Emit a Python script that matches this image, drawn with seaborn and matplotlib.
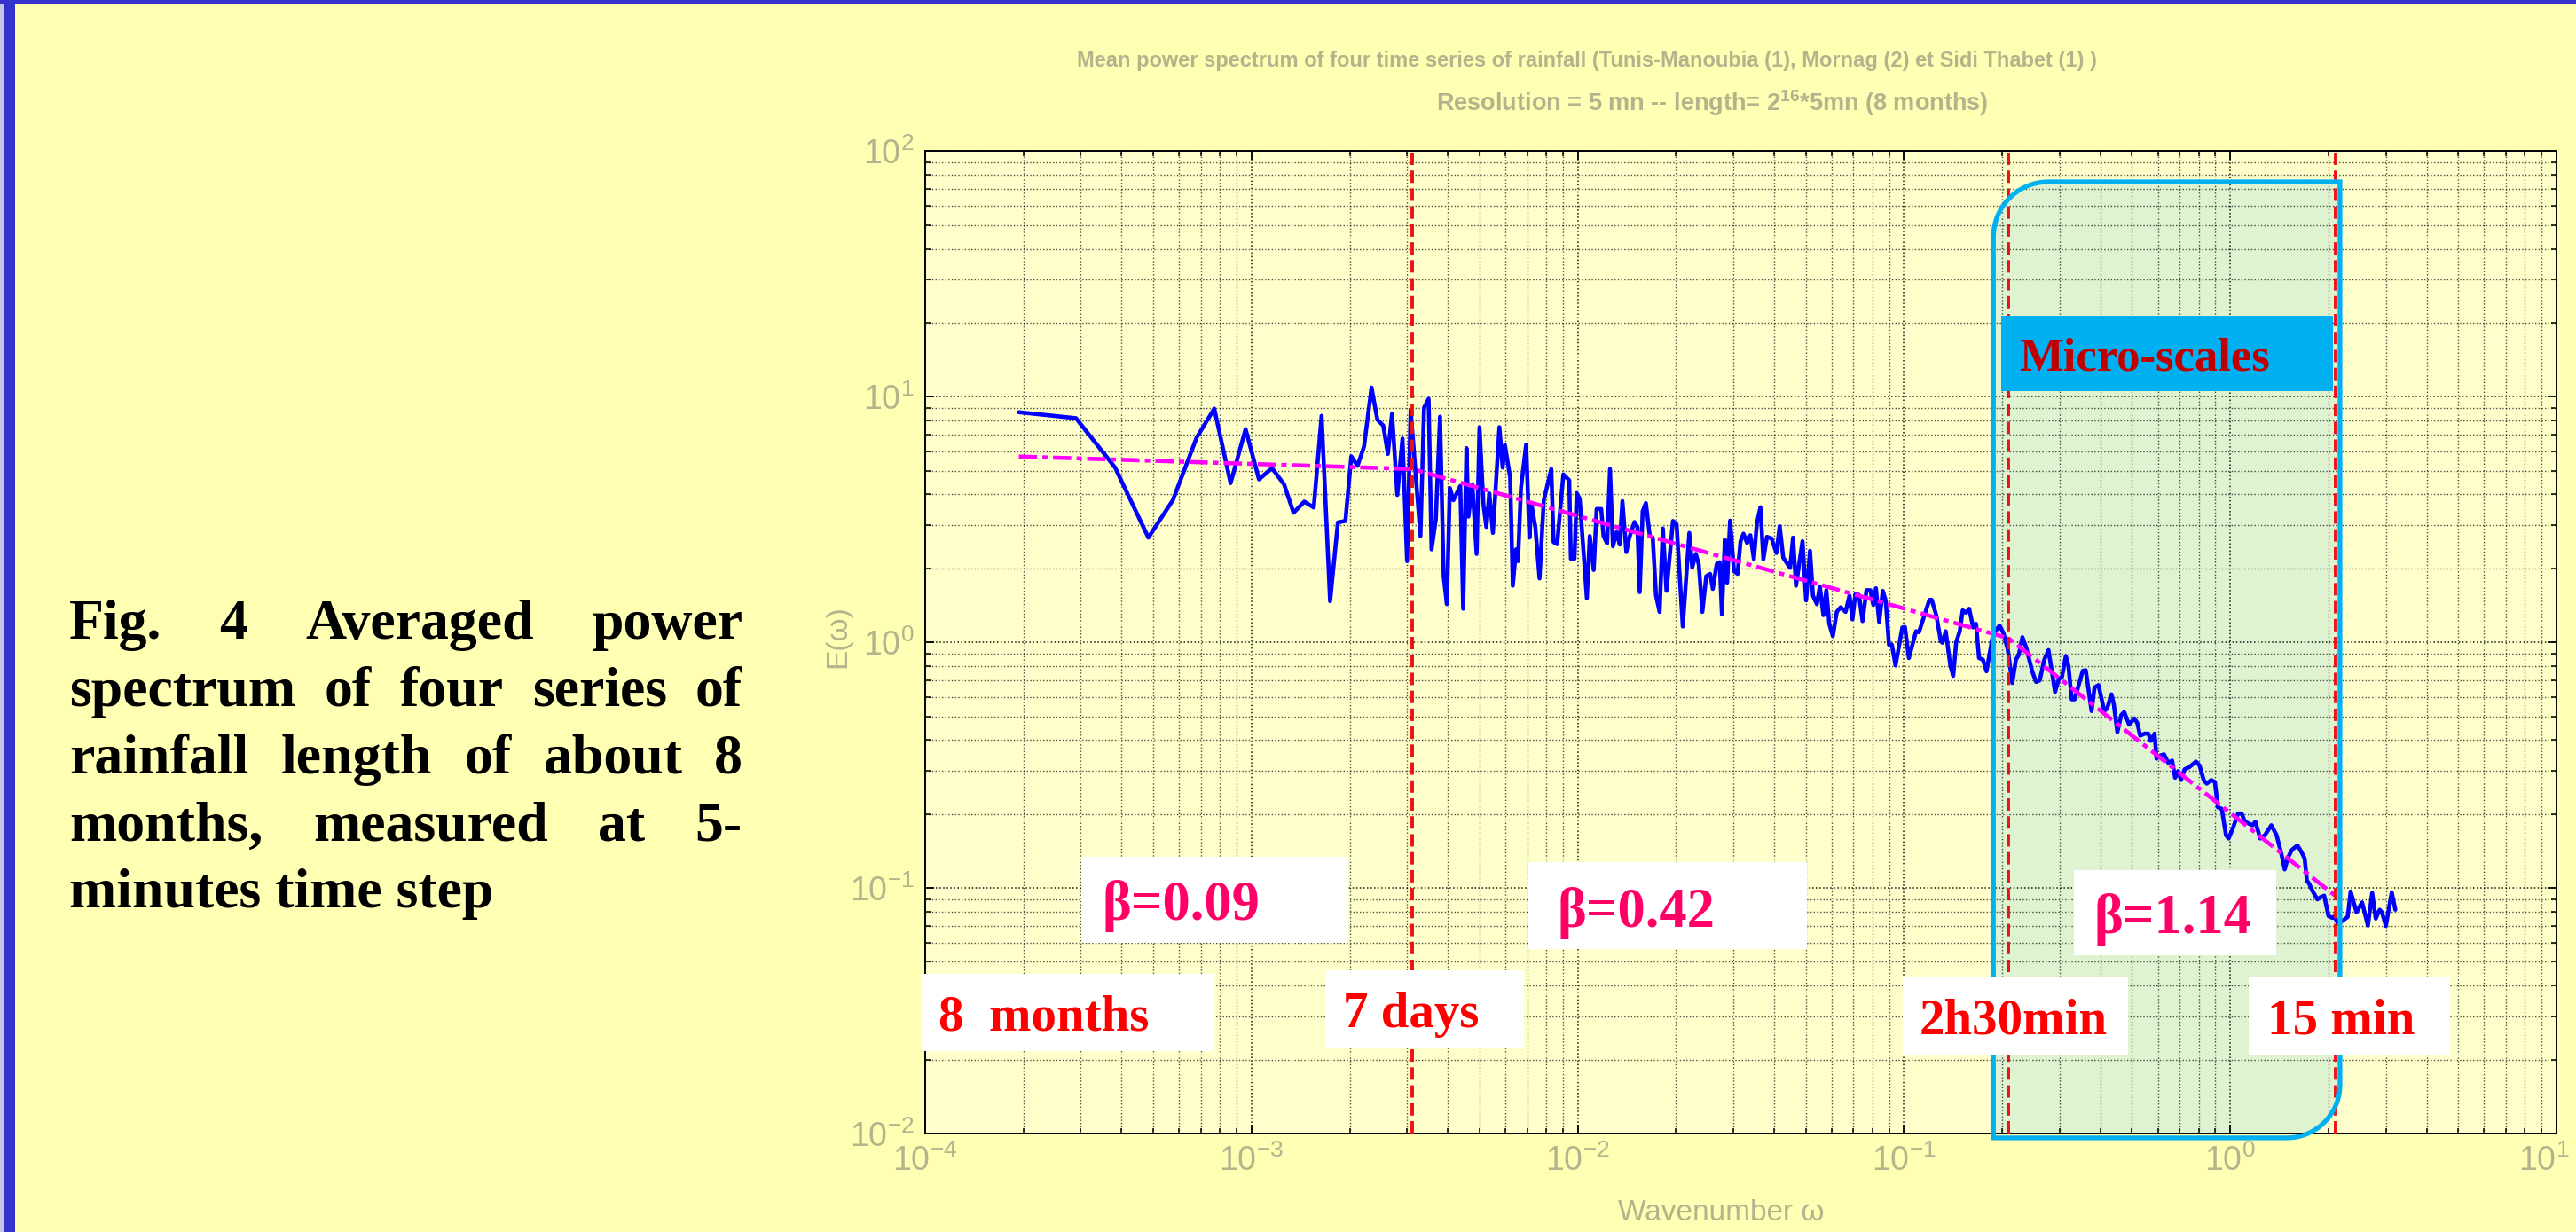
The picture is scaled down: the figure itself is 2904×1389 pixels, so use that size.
import numpy as np
import pandas as pd
import matplotlib
matplotlib.use("Agg")
import matplotlib.pyplot as plt
import seaborn as sns
from matplotlib import font_manager as fm
from matplotlib.patches import Rectangle, PathPatch
from matplotlib.path import Path
from matplotlib.transforms import IdentityTransform, ScaledTranslation
from matplotlib.ticker import FixedLocator, FixedFormatter, LogLocator, NullFormatter

W, H = 2904, 1389

# ---------------- data ----------------
# log10 of wavenumber and mean power spectrum E(w)
log_w_low = [-3.713, -3.538, -3.418, -3.316, -3.241, -3.168, -3.114, -3.064, -3.018, -2.977,
             -2.937, -2.900, -2.871, -2.838, -2.809, -2.785, -2.759, -2.735, -2.712, -2.694,
             -2.675, -2.655]
E_low = [8.65, 8.18, 5.15, 2.67, 3.79, 6.82, 8.94, 4.45, 7.38, 4.61,
         5.12, 4.40, 3.37, 3.74, 3.54, 8.36, 1.47, 3.08, 3.12, 5.72,
         5.23, 6.27]

log_w_mid = [-2.632, -2.614, -2.596, -2.582, -2.569, -2.553, -2.537, -2.523, -2.512, -2.500,
             -2.482, -2.471, -2.457, -2.448, -2.435, -2.422, -2.411, -2.401, -2.392, -2.381,
             -2.360, -2.351, -2.341, -2.335, -2.323, -2.310, -2.301, -2.289, -2.280, -2.271,
             -2.260, -2.240, -2.230, -2.223, -2.207, -2.199, -2.189, -2.183, -2.174, -2.158,
             -2.148, -2.142, -2.130, -2.117, -2.104, -2.081, -2.074, -2.063, -2.044, -2.026,
             -2.021, -2.010, -2.003, -1.994, -1.972, -1.963, -1.951, -1.942, -1.928, -1.921,
             -1.910, -1.901, -1.892, -1.881, -1.871, -1.863, -1.851, -1.842, -1.826, -1.817,
             -1.810, -1.801, -1.791, -1.779, -1.770, -1.760, -1.749, -1.739, -1.728, -1.708,
             -1.697, -1.678, -1.658, -1.649, -1.638, -1.629, -1.618, -1.606, -1.594, -1.586,
             -1.574, -1.565, -1.558]
E_mid = [10.9, 8.06, 7.63, 5.85, 8.53, 3.98, 6.76, 2.14, 8.84, 5.53,
         2.71, 9.02, 9.81, 2.39, 3.16, 8.30, 1.86, 1.43, 4.25, 3.79,
         4.33, 1.37, 6.18, 3.25, 4.40, 2.29, 7.52, 3.64, 2.95, 4.04,
         2.79, 7.52, 5.15, 6.35, 4.68, 1.70, 2.39, 2.14, 4.25, 6.39,
         2.67, 3.67, 2.95, 1.82, 3.79, 5.08, 2.56, 2.51, 4.83, 4.57,
         2.19, 2.19, 4.05, 3.85, 1.51, 2.71, 1.97, 3.49, 3.49, 2.71,
         2.53, 5.08, 2.46, 2.81, 2.50, 3.76, 2.33, 2.67, 3.09, 2.95,
         1.60, 3.42, 3.69, 2.71, 2.67, 1.55, 1.33, 2.91, 1.62, 3.12,
         3.03, 1.16, 2.79, 2.02, 2.29, 2.08, 1.33, 1.86, 1.90, 1.65,
         2.08, 2.12, 1.30]

log_w_high = [-1.549, -1.542, -1.533, -1.521, -1.510, -1.501, -1.492, -1.481, -1.471, -1.460,
              -1.451, -1.440, -1.431, -1.420, -1.406, -1.391, -1.381, -1.370, -1.349, -1.340,
              -1.331, -1.311, -1.300, -1.288, -1.279, -1.267, -1.258, -1.247, -1.238, -1.229,
              -1.218, -1.206, -1.194, -1.179, -1.167, -1.158, -1.149, -1.138, -1.127, -1.115,
              -1.103, -1.094, -1.086, -1.076, -1.065, -1.056, -1.046, -1.037, -1.026, -1.005,
              -0.997, -0.985, -0.963, -0.954, -0.922, -0.915, -0.901, -0.887, -0.882, -0.872,
              -0.858, -0.849, -0.840, -0.829, -0.820, -0.810, -0.800, -0.788, -0.779, -0.770,
              -0.758, -0.747, -0.727, -0.707, -0.695, -0.682, -0.668, -0.657, -0.648, -0.637,
              -0.625, -0.607, -0.595, -0.584, -0.570, -0.557, -0.548, -0.537, -0.525, -0.516,
              -0.504, -0.496, -0.486, -0.477, -0.466]
E_high = [2.62, 1.75, 3.13, 1.95, 1.90, 2.58, 2.77, 2.54, 2.73, 2.18,
          3.05, 3.55, 2.18, 2.69, 2.65, 2.31, 2.97, 2.21, 2.01, 2.67,
          1.70, 2.58, 1.48, 2.36, 1.55, 1.43, 1.69, 1.29, 1.63, 1.19,
          1.06, 1.33, 1.39, 1.33, 1.55, 1.24, 1.57, 1.56, 1.22, 1.63,
          1.63, 1.42, 1.66, 1.21, 1.62, 1.48, 0.977, 0.977, 0.805, 1.15,
          1.155, 0.863, 1.11, 1.10, 1.49, 1.49, 1.29, 1.01, 0.996, 1.11,
          0.805, 0.73, 1.00, 1.11, 1.35, 1.32, 1.37, 1.15, 1.19, 0.863,
          0.85, 0.762, 1.08, 1.17, 1.09, 0.937, 0.683, 0.85, 0.889, 1.05,
          0.95, 0.762, 0.69, 0.70, 0.85, 0.93, 0.78, 0.628, 0.71, 0.72,
          0.88, 0.805, 0.586, 0.586, 0.66]

log_w_micro = [-0.452, -0.443, -0.425, -0.416, -0.404, -0.386, -0.377, -0.364, -0.357, -0.346,
               -0.334, -0.325, -0.310, -0.294, -0.285, -0.276, -0.262, -0.251, -0.244, -0.232,
               -0.226, -0.217, -0.203, -0.190, -0.178, -0.169, -0.160, -0.151, -0.140, -0.126,
               -0.105, -0.094, -0.081, -0.072, -0.058, -0.047, -0.038, -0.026, -0.013, -0.005,
               0.008, 0.024, 0.035, 0.044, 0.056, 0.068, 0.077, 0.092, 0.106, 0.126,
               0.142, 0.156, 0.167, 0.177, 0.189, 0.206, 0.217, 0.228, 0.235, 0.242,
               0.253, 0.267, 0.277, 0.288, 0.301, 0.313, 0.319, 0.331, 0.360, 0.369,
               0.387, 0.404, 0.422, 0.435, 0.446, 0.458, 0.465, 0.477, 0.495, 0.506]
E_micro = [0.766, 0.77, 0.525, 0.655, 0.67, 0.525, 0.54, 0.614, 0.56, 0.431,
           0.506, 0.52, 0.462, 0.49, 0.47, 0.417, 0.425, 0.425, 0.397, 0.425,
           0.336, 0.345, 0.35, 0.323, 0.33, 0.281, 0.299, 0.275, 0.304, 0.310,
           0.327, 0.315, 0.274, 0.266, 0.275, 0.27, 0.213, 0.21, 0.164, 0.159,
           0.175, 0.201, 0.201, 0.187, 0.183, 0.18, 0.186, 0.159, 0.164, 0.18,
           0.164, 0.139, 0.119, 0.133, 0.143, 0.149, 0.141, 0.132, 0.107, 0.104,
           0.0968, 0.0898, 0.0917, 0.093, 0.0769, 0.0755, 0.0765, 0.0713, 0.0762, 0.0968,
           0.0796, 0.0873, 0.0703, 0.0955, 0.0750, 0.0815, 0.0796, 0.070, 0.096, 0.0815]

# piecewise power-law fit (magenta dash-dot)
fit_log_w = [-3.713, -2.507, -0.680, 0.322]
fit_E = [5.71, 5.08, 1.04, 0.093]

# characteristic scales (red dashed): 7 days, 2h30min, 15 min
mark_w = [3.11e-3, 0.209, 2.10]
# micro-scale box extent (wavenumber, E)
box_w = [0.188, 2.17]
box_E = [0.0096, 75.0]

x_ticks = [1e-4, 1e-3, 1e-2, 1e-1, 1e0, 1e1]
x_tick_labels = [r"$\mathregular{10^{-4}}$", r"$\mathregular{10^{-3}}$", r"$\mathregular{10^{-2}}$",
                 r"$\mathregular{10^{-1}}$", r"$\mathregular{10^{0}}$", r"$\mathregular{10^{1}}$"]
y_ticks = [1e-2, 1e-1, 1e0, 1e1, 1e2]
y_tick_labels = [r"$\mathregular{10^{-2}}$", r"$\mathregular{10^{-1}}$", r"$\mathregular{10^{0}}$",
                 r"$\mathregular{10^{1}}$", r"$\mathregular{10^{2}}$"]

title_1 = "Mean power spectrum of four time series of rainfall (Tunis-Manoubia (1), Mornag (2) et Sidi Thabet (1) )"
title_2 = r"Resolution = 5 mn -- length= $\mathbf{2^{16}}$*5mn (8 months)"
caption_lines = [["Fig.", "4", "Averaged", "power"],
                 ["spectrum", "of", "four", "series", "of"],
                 ["rainfall", "length", "of", "about", "8"],
                 ["months,", "measured", "at", "5-"]]
caption_last = "minutes time step"

# ---------------- fonts ----------------
def pick(cands):
    for c in cands:
        try:
            fm.findfont(fm.FontProperties(family=c), fallback_to_default=False)
            return c
        except Exception:
            pass
    return "DejaVu Sans"

NARROW = pick(["Liberation Sans Narrow", "Liberation Sans", "DejaVu Sans"])
SERIF = pick(["Liberation Serif", "DejaVu Serif"])

sns.set_style("ticks")
plt.rcParams["font.family"] = [NARROW, "DejaVu Sans"]
plt.rcParams["mathtext.fontset"] = "custom"
plt.rcParams["mathtext.rm"] = NARROW
plt.rcParams["mathtext.it"] = NARROW
plt.rcParams["mathtext.bf"] = NARROW + ":bold"

FIG_BG = "#FFFFB4"
AX_BG = "#FFFFCC"
GREY = "#B4B38C"

def fx(px):
    return px / W

def fy(py):
    return 1 - py / H

fig = plt.figure(figsize=(W / 100, H / 100), dpi=100, facecolor=FIG_BG)
ax = fig.add_axes([fx(1043), fy(1278), (2882 - 1043) / W, (1278 - 170.4) / H])
ax.set_facecolor(AX_BG)
ax.set_xscale("log")
ax.set_yscale("log")

spec = pd.DataFrame({
    "w": 10 ** np.array(log_w_low + log_w_mid + log_w_high + log_w_micro),
    "E": np.array(E_low + E_mid + E_high + E_micro),
})
fit = pd.DataFrame({"w": 10 ** np.array(fit_log_w), "E": fit_E})

sns.lineplot(data=spec, x="w", y="E", ax=ax, color="#0000FF", linewidth=3.3,
             estimator=None, sort=False, zorder=3)
sns.lineplot(data=fit, x="w", y="E", ax=ax, color="#FF00FF", linewidth=3.3,
             estimator=None, sort=False, zorder=4)
ax.lines[-1].set_dashes([4.5, 1.3, 1.3, 1.3])

for w in mark_w:
    ax.axvline(w, color="#EE1111", linewidth=2.8, dashes=(3.6, 1.6), zorder=4.5)

ax.set_xlim(1e-4, 1e1)
ax.set_ylim(1e-2, 1e2)

ax.xaxis.set_major_locator(FixedLocator(x_ticks))
ax.xaxis.set_major_formatter(FixedFormatter(x_tick_labels))
ax.yaxis.set_major_locator(FixedLocator(y_ticks))
ax.yaxis.set_major_formatter(FixedFormatter(y_tick_labels))
ax.xaxis.set_minor_locator(LogLocator(base=10, subs=np.arange(2, 10), numticks=50))
ax.yaxis.set_minor_locator(LogLocator(base=10, subs=np.arange(2, 10), numticks=50))
ax.xaxis.set_minor_formatter(NullFormatter())
ax.yaxis.set_minor_formatter(NullFormatter())

ax.set_axisbelow(True)
ax.grid(True, which="major", color="#000000", linewidth=1.1, linestyle=":", alpha=0.9)
ax.grid(True, which="minor", color="#000000", linewidth=1.0, linestyle=":", alpha=0.7)
ax.tick_params(which="both", direction="in", top=True, right=True, color="black")
ax.tick_params(which="major", length=7, width=1.3, labelsize=27, labelcolor=GREY, pad=9)
ax.tick_params(which="minor", length=4, width=1.1)
for s in ax.spines.values():
    s.set_color("black")
    s.set_linewidth(1.4)

ax.set_xlabel("Wavenumber ω", fontsize=24, color=GREY)
ax.set_ylabel("E(ω)", fontsize=24, color=GREY)
ax.xaxis.set_label_coords((1940 - 1043) / 1839, (1278 - 1367) / 1107.6)
ax.xaxis.label.set_va("center")
ax.yaxis.set_label_coords((945 - 1043) / 1839, (1278 - 718) / 1107.6)
ax.yaxis.label.set_va("center")

# ---------- micro-scale rounded box (from data coordinates) ----------
(bx0, by0) = ax.transData.transform((box_w[0], box_E[0]))
(bx1, by1) = ax.transData.transform((box_w[1], box_E[1]))
r_tl, r_br = 62.0, 60.0
verts = [(bx0, by0), (bx0, by1 - r_tl)]
for a in np.linspace(np.pi, np.pi / 2, 20):
    verts.append((bx0 + r_tl + r_tl * np.cos(a), by1 - r_tl + r_tl * np.sin(a)))
verts += [(bx1, by1), (bx1, by0 + r_br)]
for a in np.linspace(0, -np.pi / 2, 20):
    verts.append((bx1 - r_br + r_br * np.cos(a), by0 + r_br + r_br * np.sin(a)))
verts.append((bx0, by0))
verts.append((bx0, by0))
codes = [Path.MOVETO] + [Path.LINETO] * (len(verts) - 2) + [Path.CLOSEPOLY]
box_path = Path(verts, codes)
fill = PathPatch(box_path, transform=IdentityTransform(), facecolor="#DFF3D1",
                 edgecolor="none", zorder=0.4)
ax.add_artist(fill)
edge = PathPatch(box_path, transform=IdentityTransform(), facecolor="none",
                 edgecolor="#00B0F0", linewidth=3.8, zorder=5, clip_on=False)
ax.add_artist(edge)

# ---------- labelled boxes ----------
def label_box(x0, y0, x1, y1, tx, ty, text, color, size, face="white"):
    fig.add_artist(Rectangle((fx(x0), fy(y1)), (x1 - x0) / W, (y1 - y0) / H,
                             transform=fig.transFigure, facecolor=face,
                             edgecolor="none", zorder=6))
    fig.text(fx(tx), fy(ty), text, color=color, fontsize=size, fontweight="bold",
             family=[SERIF, "DejaVu Serif"], ha="left", va="baseline", zorder=7)

label_box(1219, 966, 1520, 1063, 1242, 1037, "β=0.09", "#FF0066", 45)
label_box(1722, 972, 2037, 1070, 1756, 1045, "β=0.42", "#FF0066", 45)
label_box(2338, 981, 2566, 1077, 2361, 1052, "β=1.14", "#FF0066", 45)
label_box(1038, 1098, 1369, 1185, 1058, 1162, "8  months", "#FF0000", 41)
label_box(1494, 1094, 1718, 1182, 1514, 1158, "7 days", "#FF0000", 41)
label_box(2145, 1102, 2399, 1189, 2164, 1165, "2h30min", "#FF0000", 41)
label_box(2535, 1102, 2761, 1189, 2556, 1165, "15 min", "#FF0000", 41)
label_box(2256, 356, 2630, 441, 2276, 417, "Micro-scales", "#C00000", 38, face="#00B0F0")

# ---------- title ----------
fig.text(fx(1789), fy(75), title_1, color=GREY, fontsize=17, fontweight="bold",
         ha="center", va="baseline")
fig.text(fx(1930), fy(125), title_2, color=GREY, fontsize=19.5, fontweight="bold",
         ha="center", va="baseline")

# ---------- caption (justified) ----------
CAP_FS = 46
renderer = fig.canvas.get_renderer()
cap_x0, cap_x1 = 78, 837
cap_base = [720, 796, 872, 948]
for words, yb in zip(caption_lines, cap_base):
    ts = [fig.text(0, 0, wd, fontsize=CAP_FS, fontweight="bold", family=[SERIF, "DejaVu Serif"],
                   color="black", ha="left", va="baseline") for wd in words]
    widths = [t.get_window_extent(renderer).width for t in ts]
    gap = (cap_x1 - cap_x0 - sum(widths)) / (len(words) - 1)
    xcur = cap_x0
    for t, wd in zip(ts, widths):
        t.set_position((fx(xcur), fy(yb)))
        xcur += wd + gap
fig.text(fx(cap_x0), fy(1023), caption_last, fontsize=CAP_FS, fontweight="bold",
         family=[SERIF, "DejaVu Serif"], color="black", ha="left", va="baseline")

# ---------- frame border ----------
fig.add_artist(Rectangle((0, 0), fx(4), 1, transform=fig.transFigure,
                         facecolor="#C4C4E4", edgecolor="none", zorder=10))
fig.add_artist(Rectangle((fx(4), 0), fx(13), 1, transform=fig.transFigure,
                         facecolor="#3434CC", edgecolor="none", zorder=10))
fig.add_artist(Rectangle((0, fy(4)), 1, 4 / H, transform=fig.transFigure,
                         facecolor="#3434CC", edgecolor="none", zorder=10))

# keep the last x tick label (10^1) inside the canvas
fig.canvas.draw()
last_lab = ax.xaxis.get_major_ticks()[-1].label1
last_lab.set_transform(last_lab.get_transform() + ScaledTranslation(-0.14, 0, fig.dpi_scale_trans))

fig.savefig("out.png", dpi=100, facecolor=FIG_BG)
